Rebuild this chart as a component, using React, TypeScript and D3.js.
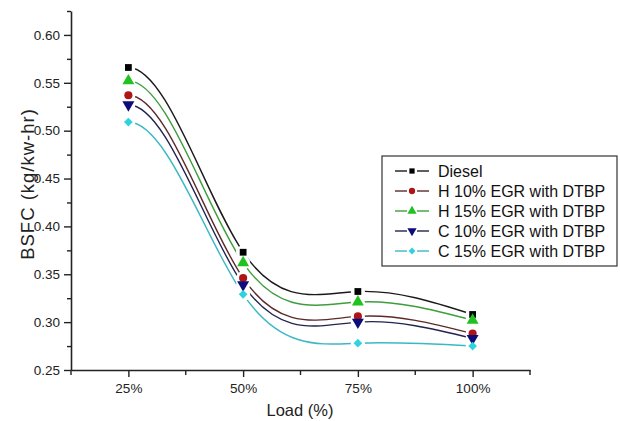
import React, { useEffect, useRef } from "react";
import * as d3 from "d3";

// engine load categories
const loads = ["25%", "50%", "75%", "100%"];

// BSFC (kg/kw-hr)
const diesel = [0.566, 0.373, 0.332, 0.308];
const h10 = [0.537, 0.346, 0.306, 0.288];
const h15 = [0.552, 0.362, 0.321, 0.302];
const c10 = [0.527, 0.339, 0.3, 0.283];
const c15 = [0.509, 0.329, 0.278, 0.275];

const seriesNames = [
  "Diesel",
  "H 10% EGR with DTBP",
  "H 15% EGR with DTBP",
  "C 10% EGR with DTBP",
  "C 15% EGR with DTBP",
];

const yMajor = [0.25, 0.3, 0.35, 0.4, 0.45, 0.5, 0.55, 0.6];
const yMinor = [0.275, 0.325, 0.375, 0.425, 0.475, 0.525, 0.575, 0.625];

const W = 620;
const H = 421;
const FONT = "'Liberation Sans', Arial, sans-serif";

// cubic spline: flat tangent at the first point, natural at the last one
// (roughly how the plotting program bends these lines)
const splineCurve = (context: any) => {
  let xs: number[] = [];
  let ys: number[] = [];
  return {
    areaStart() {},
    areaEnd() {},
    lineStart() {
      xs = [];
      ys = [];
    },
    point(px: number, py: number) {
      xs.push(+px);
      ys.push(+py);
    },
    lineEnd() {
      const n = xs.length;
      if (!n) return;
      context.moveTo(xs[0], ys[0]);
      if (n < 2) return;
      const h = d3.range(n - 1).map((i) => xs[i + 1] - xs[i]);
      const s = h.map((hi, i) => (ys[i + 1] - ys[i]) / hi);
      const a = new Array(n).fill(0);
      const b = new Array(n).fill(0);
      const c = new Array(n).fill(0);
      const d = new Array(n).fill(0);
      b[0] = 1;
      for (let i = 1; i < n - 1; i++) {
        a[i] = h[i];
        b[i] = 2 * (h[i - 1] + h[i]);
        c[i] = h[i - 1];
        d[i] = 3 * (h[i] * s[i - 1] + h[i - 1] * s[i]);
      }
      a[n - 1] = 1;
      b[n - 1] = 2;
      d[n - 1] = 3 * s[n - 2];
      for (let i = 1; i < n; i++) {
        const w = a[i] / b[i - 1];
        b[i] -= w * c[i - 1];
        d[i] -= w * d[i - 1];
      }
      const m = new Array(n).fill(0);
      m[n - 1] = d[n - 1] / b[n - 1];
      for (let i = n - 2; i >= 0; i--) m[i] = (d[i] - c[i] * m[i + 1]) / b[i];
      for (let i = 0; i < n - 1; i++) {
        const t = h[i] / 3;
        context.bezierCurveTo(
          xs[i] + t,
          ys[i] + m[i] * t,
          xs[i + 1] - t,
          ys[i + 1] - m[i + 1] * t,
          xs[i + 1],
          ys[i + 1]
        );
      }
    },
  };
};

const App = () => {
  const ref = useRef<SVGSVGElement>(null);

  useEffect(() => {
    const svg = d3.select(ref.current);
    svg.selectAll("*").remove();

    const x = d3.scalePoint<string>().domain(loads).range([71, 530]).padding(0.5);
    const y = d3.scaleLinear().domain([0.25, 0.625]).range([370, 11]);
    const step = x.step();

    const series = [
      { name: seriesNames[0], values: diesel, marker: "#000000", line: "#1a1a1a", sym: d3.symbolSquare, size: 46, rot: 0 },
      { name: seriesNames[1], values: h10, marker: "#b01515", line: "#5c2a2a", sym: d3.symbolCircle, size: 52, rot: 0 },
      { name: seriesNames[2], values: h15, marker: "#1fc21f", line: "#3c9e3c", sym: d3.symbolTriangle, size: 62, rot: 0 },
      { name: seriesNames[3], values: c10, marker: "#0c0c7a", line: "#23234f", sym: d3.symbolTriangle, size: 62, rot: 180 },
      { name: seriesNames[4], values: c15, marker: "#2fd3e0", line: "#3cb8c4", sym: d3.symbolSquare, size: 38, rot: 45 },
    ];

    svg.append("rect").attr("width", W).attr("height", H).attr("fill", "#fff");

    // curves
    const line = d3
      .line<number>()
      .x((d, i) => x(loads[i])!)
      .y((d) => y(d))
      .curve(splineCurve as any);

    const plot = svg.append("g");
    plot
      .selectAll("path.curve")
      .data(series)
      .join("path")
      .attr("class", "curve")
      .attr("d", (s) => line(s.values))
      .attr("fill", "none")
      .attr("stroke", (s) => s.line)
      .attr("stroke-width", 1.4);

    // white gap round each symbol, like the original plot
    series.forEach((s) => {
      plot
        .append("g")
        .selectAll("circle")
        .data(s.values)
        .join("circle")
        .attr("cx", (d, i) => x(loads[i])!)
        .attr("cy", (d) => y(d))
        .attr("r", 7)
        .attr("fill", "#fff");
    });
    series.forEach((s) => {
      plot
        .append("g")
        .selectAll("path")
        .data(s.values)
        .join("path")
        .attr("d", d3.symbol().type(s.sym).size(s.size)()!)
        .attr("transform", (d, i) => `translate(${x(loads[i])},${y(d)}) rotate(${s.rot})`)
        .attr("fill", s.marker);
    });

    // axes
    const axisStyle = (g: any) => {
      g.attr("font-family", FONT).attr("font-size", 13.5);
      g.selectAll(".domain").attr("stroke", "#222").attr("stroke-width", 1.6);
      g.selectAll(".tick line").attr("stroke", "#222").attr("stroke-width", 1.4);
      g.selectAll(".tick text").attr("font-family", FONT).attr("font-size", 13.5).attr("fill", "#222");
    };

    svg
      .append("g")
      .attr("transform", "translate(71,0)")
      .call(d3.axisLeft(y).tickValues(yMinor).tickSize(4).tickSizeOuter(0).tickFormat(() => ""))
      .call(axisStyle)
      .call((g) => g.select(".domain").remove());
    svg
      .append("g")
      .attr("transform", "translate(71,0)")
      .call(d3.axisLeft(y).tickValues(yMajor).tickSize(7).tickSizeOuter(0).tickPadding(4).tickFormat(d3.format(".2f")))
      .call(axisStyle);

    const xMinor = loads.map((l) => x(l)! - step / 2).concat([x(loads[loads.length - 1])! + step / 2]);
    const xm = svg.append("g").attr("transform", "translate(0,370)");
    xm.selectAll("line")
      .data(xMinor)
      .join("line")
      .attr("x1", (d) => d)
      .attr("x2", (d) => d)
      .attr("y1", 0)
      .attr("y2", 5)
      .attr("stroke", "#222")
      .attr("stroke-width", 1.4);
    svg
      .append("g")
      .attr("transform", "translate(0,370)")
      .call(d3.axisBottom(x).tickSize(7).tickSizeOuter(0).tickPadding(6))
      .call(axisStyle);

    // axis titles
    svg
      .append("text")
      .attr("x", 300)
      .attr("y", 416)
      .attr("text-anchor", "middle")
      .attr("font-family", FONT)
      .attr("font-size", 16.5)
      .attr("fill", "#222")
      .text("Load (%)");
    svg
      .append("text")
      .attr("transform", "translate(34,184) rotate(-90)")
      .attr("text-anchor", "middle")
      .attr("font-family", FONT)
      .attr("font-size", 18.5)
      .attr("letter-spacing", 1)
      .attr("fill", "#222")
      .text("BSFC (kg/kw-hr)");

    // legend
    const lg = svg.append("g").attr("transform", "translate(382,156)");
    lg.append("rect")
      .attr("width", 235)
      .attr("height", 110)
      .attr("fill", "#fff")
      .attr("stroke", "#333")
      .attr("stroke-width", 1.2);
    const item = lg
      .selectAll("g.item")
      .data(series)
      .join("g")
      .attr("class", "item")
      .attr("transform", (d, i) => `translate(0,${15 + i * 20})`);
    item
      .append("line")
      .attr("x1", 13)
      .attr("x2", 25)
      .attr("stroke", (s) => s.line)
      .attr("stroke-width", 1.4);
    item
      .append("line")
      .attr("x1", 35)
      .attr("x2", 47)
      .attr("stroke", (s) => s.line)
      .attr("stroke-width", 1.4);
    item
      .append("path")
      .attr("d", (s) => d3.symbol().type(s.sym).size(s.size * 0.6)()!)
      .attr("transform", (s) => `translate(30,0) rotate(${s.rot})`)
      .attr("fill", (s) => s.marker);
    item
      .append("text")
      .attr("x", 56)
      .attr("dy", "0.36em")
      .attr("font-family", FONT)
      .attr("font-size", 16)
      .attr("fill", "#111")
      .text((s) => s.name);
  }, []);

  return (
    <div style={{ position: "absolute", left: 0, top: 0 }}>
      <svg ref={ref} width={W} height={H} />
    </div>
  );
};

export default App;
